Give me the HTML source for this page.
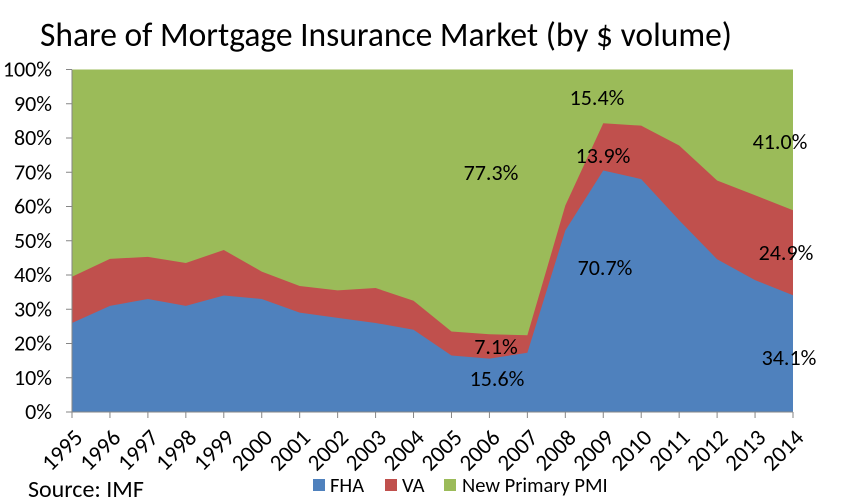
<!DOCTYPE html>
<html><head><meta charset="utf-8"><style>
body{margin:0;background:#fff;}
svg{display:block;font-family:Calibri,"Liberation Sans",sans-serif;}
</style></head><body>
<svg id="s" width="841" height="503" xmlns="http://www.w3.org/2000/svg">
<rect width="841" height="503" fill="#fff"/>
<text x="40" y="46" font-size="33.5" fill="#000">Share of Mortgage Insurance Market (by $ volume)</text>
<g id="plot"></g>
<g font-size="22" fill="#000">
<text x="597" y="105" text-anchor="middle">15.4%</text>
<text x="780" y="149" text-anchor="middle">41.0%</text>
<text x="603" y="163" text-anchor="middle">13.9%</text>
<text x="491" y="180" text-anchor="middle">77.3%</text>
<text x="605" y="275" text-anchor="middle">70.7%</text>
<text x="786" y="260" text-anchor="middle">24.9%</text>
<text x="496" y="354" text-anchor="middle">7.1%</text>
<text x="497" y="386" text-anchor="middle">15.6%</text>
<text x="789" y="365" text-anchor="middle">34.1%</text>
</g>
<text x="28" y="497" font-size="24">Source: IMF</text>
<g font-size="20.5">
<rect x="313" y="479" width="12" height="12" fill="#4F81BD"/><text x="330" y="492">FHA</text>
<rect x="385" y="479" width="12" height="12" fill="#C0504D"/><text x="402" y="492">VA</text>
<rect x="444" y="479" width="12" height="12" fill="#9BBB59"/><text x="462" y="492">New Primary PMI</text>
</g>
</svg>
<script>
var fha=[26,31,33,31,34,33,29,27.5,26,24,16.5,15.6,17.3,53,70.5,68,56,44.6,38.5,34.1];
var va=[39.5,44.7,45.3,43.5,47.3,41,36.8,35.5,36.2,32.5,23.5,22.7,22.4,60.3,84.3,83.6,77.8,67.6,63.3,58.9];
var L=72,R=793,T=69.5,B=412,dx=(R-L)/19,k=(B-T)/100;
function X(i){return L+i*dx} function Y(v){return B-v*k}
var g=document.getElementById('plot'),h='';
h+='<rect x="'+L+'" y="'+T+'" width="'+(R-L)+'" height="'+(B-T)+'" fill="#9BBB59"/>';
var p='',q='';
for(var i=0;i<20;i++){p+=X(i)+','+Y(va[i])+' ';}
for(var i=19;i>=0;i--){p+=X(i)+','+B+' ';}
h+='<polygon points="'+p+'" fill="#C0504D"/>';
for(var i=0;i<20;i++){q+=X(i)+','+Y(fha[i])+' ';}
for(var i=19;i>=0;i--){q+=X(i)+','+B+' ';}
h+='<polygon points="'+q+'" fill="#4F81BD"/>';
h+='<line x1="'+L+'" y1="'+T+'" x2="'+L+'" y2="'+B+'" stroke="#868686"/>';
h+='<line x1="'+L+'" y1="'+B+'" x2="'+R+'" y2="'+B+'" stroke="#868686"/>';
for(var v=0;v<=100;v+=10){var y=Y(v);h+='<line x1="'+(L-6)+'" y1="'+y+'" x2="'+L+'" y2="'+y+'" stroke="#868686"/>';
h+='<text x="'+(L-20)+'" y="'+(y+7)+'" font-size="22" text-anchor="end" fill="#000">'+v+'%</text>';}
for(var i=0;i<20;i++){var x=X(i);h+='<line x1="'+x+'" y1="'+B+'" x2="'+x+'" y2="'+(B+6)+'" stroke="#868686"/>';
h+='<text transform="translate('+(x+12)+','+(B+27)+') rotate(-45)" font-size="23" text-anchor="end" fill="#000">'+(1995+i)+'</text>';}
g.innerHTML=h;
</script>
</body></html>
